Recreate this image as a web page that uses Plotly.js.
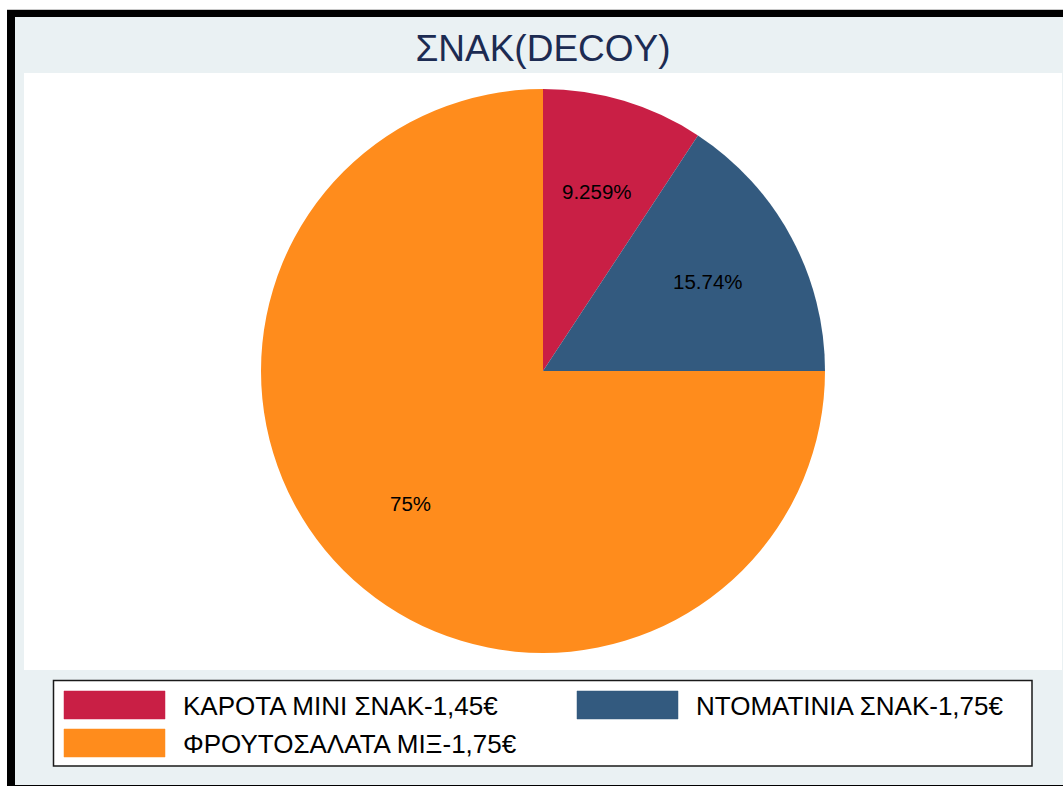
<!DOCTYPE html>
<html>
<head>
<meta charset="utf-8">
<script src="https://cdn.plot.ly/plotly-3.0.1.min.js"></script>
<style>html,body{margin:0;padding:0;background:#fff;}#chart{width:1063px;height:787px;}</style>
</head>
<body>
<div id="chart"></div>
<script>
// Data
const chartTitle = "ΣΝΑΚ(DECOY)";
const labels = ["ΚΑΡΟΤΑ ΜΙΝΙ ΣΝΑΚ-1,45€", "ΝΤΟΜΑΤΙΝΙΑ ΣΝΑΚ-1,75€", "ΦΡΟΥΤΟΣΑΛΑΤΑ ΜΙΞ-1,75€"];
const values = [10, 17, 81];
const colors = ["#C91F45", "#335A7F", "#FF8C1C"];

const W = 1063, H = 787;
const px = x => x / W;
const py = y => 1 - y / H;

const FONT = "Liberation Sans, Arial, sans-serif";

// pie geometry (pixels)
const CX = 543, CY = 371, R = 282;

const shapes = [
  {type:"line", xref:"paper", yref:"paper", x0:px(7), x1:px(1063), y0:py(9.5), y1:py(9.5), line:{color:"#c8c8c8", width:1}, layer:"below"},
  {type:"rect", xref:"paper", yref:"paper", x0:px(7), x1:px(1063), y0:py(10), y1:py(786), fillcolor:"#000", line:{width:0}, layer:"below"},
  {type:"rect", xref:"paper", yref:"paper", x0:px(15), x1:px(1063), y0:py(17), y1:py(785), fillcolor:"#EAF1F3", line:{width:0}, layer:"below"},
  {type:"rect", xref:"paper", yref:"paper", x0:px(24), x1:px(1062), y0:py(73), y1:py(670), fillcolor:"#FFFFFF", line:{width:0}, layer:"below"},
  {type:"rect", xref:"paper", yref:"paper", x0:px(53.5), x1:px(1032), y0:py(680.5), y1:py(766), fillcolor:"#FFFFFF", line:{color:"#1a1a1a", width:1.5}, layer:"below"}
];

// Legend entries (manual, Stata style wide swatches)
const legendPos = [[64, 691], [577, 691], [64, 729]];
const annotations = [];
labels.forEach((lab, i) => {
  const [lx, ly] = legendPos[i];
  shapes.push({type:"rect", xref:"paper", yref:"paper", x0:px(lx), x1:px(lx+101), y0:py(ly), y1:py(ly+28), fillcolor:colors[i], line:{color:colors[i], width:0.5}, layer:"below"});
  annotations.push({xref:"paper", yref:"paper", x:px(lx+117), y:py(ly+15), xanchor:"left", yanchor:"middle", showarrow:false, text:lab, font:{family:FONT, size:26, color:"#000"}});
});

// Slice percentage labels, placed at 2/3 radius along each slice's mid-angle (Stata style)
const total = values.reduce((a, b) => a + b, 0);
let cum = 0;
values.forEach((v, i) => {
  const frac = v / total;
  const mid = (cum + frac / 2) * 2 * Math.PI;
  cum += frac;
  const r = 0.665 * R;
  const x = CX + r * Math.sin(mid);
  const y = CY - r * Math.cos(mid);
  const pct = Number((frac * 100).toPrecision(4)).toString() + "%";
  annotations.push({xref:"paper", yref:"paper", x:px(x), y:py(y), xanchor:"center", yanchor:"middle", showarrow:false, text:pct, font:{family:FONT, size:20.5, color:"#000"}});
});

const trace = {
  type: "pie",
  labels: labels,
  values: values,
  sort: false,
  direction: "clockwise",
  rotation: 0,
  marker: {colors: colors, line: {width: 0}},
  textinfo: "none",
  hoverinfo: "label+percent",
  showlegend: false,
  domain: {x: [px(CX - R), px(CX + R)], y: [py(CY + R), py(CY - R)]}
};

const layout = {
  width: W, height: H,
  margin: {l:0, r:0, t:0, b:0},
  paper_bgcolor: "#FFFFFF",
  showlegend: false,
  title: {text: chartTitle, x: px(543), xanchor: "center", y: py(48), yanchor: "middle", font: {family: FONT, size: 37, color: "#1C2B52"}},
  shapes: shapes,
  annotations: annotations
};

Plotly.newPlot("chart", [trace], layout, {displayModeBar: false, staticPlot: true});
</script>
</body>
</html>
